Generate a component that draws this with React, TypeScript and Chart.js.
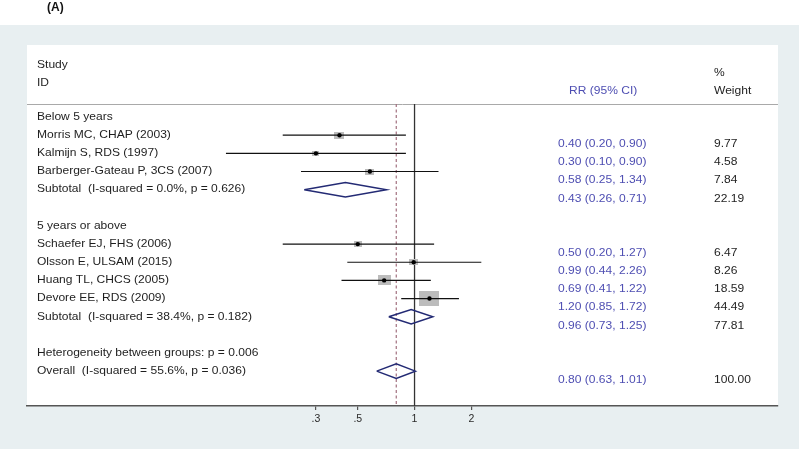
import React, { useEffect, useRef } from "react";
import { Chart, registerables } from "chart.js";

Chart.register(...registerables);

// ---------------- data ----------------
const studyLabels = [
  "Morris MC, CHAP (2003)",
  "Kalmijn S, RDS (1997)",
  "Barberger-Gateau P, 3CS (2007)",
  "Schaefer EJ, FHS (2006)",
  "Olsson E, ULSAM (2015)",
  "Huang TL, CHCS (2005)",
  "Devore EE, RDS (2009)",
];
const studyRows = [1, 2, 3, 7, 8, 9, 10];
const studyRR = [0.4, 0.3, 0.58, 0.5, 0.99, 0.69, 1.2];
const studyLo = [0.2, 0.1, 0.25, 0.2, 0.44, 0.41, 0.85];
const studyHi = [0.9, 0.9, 1.34, 1.27, 2.26, 1.22, 1.72];
const studyWeight = [9.77, 4.58, 7.84, 6.47, 8.26, 18.59, 44.49];

const pooledLabels = [
  "Subtotal  (I-squared = 0.0%, p = 0.626)",
  "Subtotal  (I-squared = 38.4%, p = 0.182)",
  "Overall  (I-squared = 55.6%, p = 0.036)",
];
const pooledRows = [4, 11, 14];
const pooledRR = [0.43, 0.96, 0.8];
const pooledLo = [0.26, 0.73, 0.63];
const pooledHi = [0.71, 1.25, 1.01];
const pooledWeight = [22.19, 77.81, 100.0];

const headingLabels = ["Below 5 years", "5 years or above", "Heterogeneity between groups: p = 0.006"];
const headingRows = [0, 6, 13];

const tickValues = [0.3, 0.5, 1, 2];
const tickLabels = [".3", ".5", "1", "2"];

const panelTitle = "(A)";
const colStudy = ["Study", "ID"];
const colRR = "RR (95% CI)";
const colWeight = ["%", "Weight"];

const nullValue = 1;

// ---------------- layout / style ----------------
const W = 799;
const H = 449;
const BG = "#e8eff1";
const FONT = "'Liberation Sans', Arial, Helvetica, sans-serif";
const TEXT_SX = 1.17;
const ROW_MIN = -3.97;
const ROW_MAX = 15.92;
const HEADER_ROW = -0.72;
const VALUE_SHIFT = 0.5;
const DIAMOND_H = 0.4;

const fmt = (v: number) => v.toFixed(2);

export default function App() {
  const ref = useRef<HTMLCanvasElement>(null);

  useEffect(() => {
    const canvas = ref.current;
    if (!canvas) return;

    const makeBox = (w: number) => {
      const side = 3.05 * Math.sqrt(w);
      const c = document.createElement("canvas");
      c.width = Math.max(2, Math.round(side));
      c.height = Math.max(2, Math.round(side / 1.38));
      const g = c.getContext("2d")!;
      g.fillStyle = "#bcbcbc";
      g.fillRect(0, 0, c.width, c.height);
      return c;
    };
    const boxes = studyWeight.map(makeBox);

    const drawText = (ctx: CanvasRenderingContext2D, s: string, x: number, y: number) => {
      ctx.save();
      ctx.translate(x, y);
      ctx.scale(TEXT_SX, 1);
      ctx.fillText(s, 0, 0);
      ctx.restore();
    };

    const bgPlugin = {
      id: "forestBg",
      beforeDraw(chart: any) {
        const { ctx, chartArea: a } = chart;
        const ys = chart.scales.y;
        ctx.save();
        ctx.fillStyle = "#ffffff";
        ctx.fillRect(0, 0, W, H);
        ctx.fillStyle = BG;
        ctx.fillRect(0, 25, W, H - 25);
        ctx.fillStyle = "#ffffff";
        ctx.fillRect(a.left, a.top, a.right - a.left, a.bottom - a.top);
        const hy = Math.round(ys.getPixelForValue(HEADER_ROW)) + 0.5;
        ctx.strokeStyle = "#a9a9a9";
        ctx.lineWidth = 1;
        ctx.beginPath();
        ctx.moveTo(a.left, hy);
        ctx.lineTo(a.right, hy);
        ctx.stroke();
        ctx.restore();
      },
      afterDraw(chart: any) {
        const { ctx } = chart;
        const ys = chart.scales.y;
        const py = (r: number) => ys.getPixelForValue(r);
        ctx.save();
        ctx.textBaseline = "middle";
        ctx.textAlign = "left";

        ctx.fillStyle = "#111";
        ctx.font = `bold 12px ${FONT}`;
        ctx.fillText(panelTitle, 47, 8);

        ctx.font = `10.3px ${FONT}`;
        ctx.fillStyle = "#1e1e1e";
        drawText(ctx, colStudy[0], 37, py(-2.87));
        drawText(ctx, colStudy[1], 37, py(-1.88));
        drawText(ctx, colWeight[0], 714, py(-2.44));
        drawText(ctx, colWeight[1], 714, py(-1.45));
        ctx.fillStyle = "#4e4eb2";
        drawText(ctx, colRR, 569, py(-1.4));

        ctx.fillStyle = "#1e1e1e";
        headingLabels.forEach((s, i) => drawText(ctx, s, 37, py(headingRows[i])));
        studyLabels.forEach((s, i) => drawText(ctx, s, 37, py(studyRows[i])));
        pooledLabels.forEach((s, i) => drawText(ctx, s, 37, py(pooledRows[i])));

        ctx.fillStyle = "#4e4eb2";
        studyRR.forEach((v, i) =>
          drawText(ctx, `${fmt(v)} (${fmt(studyLo[i])}, ${fmt(studyHi[i])})`, 558, py(studyRows[i] + VALUE_SHIFT))
        );
        pooledRR.forEach((v, i) =>
          drawText(ctx, `${fmt(v)} (${fmt(pooledLo[i])}, ${fmt(pooledHi[i])})`, 558, py(pooledRows[i] + VALUE_SHIFT))
        );
        ctx.fillStyle = "#1e1e1e";
        studyWeight.forEach((v, i) => drawText(ctx, fmt(v), 714, py(studyRows[i] + VALUE_SHIFT)));
        pooledWeight.forEach((v, i) => drawText(ctx, fmt(v), 714, py(pooledRows[i] + VALUE_SHIFT)));
        ctx.restore();
      },
    };

    const datasets: any[] = [];
    // point estimate dots (top)
    datasets.push({
      data: studyRR.map((v, i) => ({ x: v, y: studyRows[i] })),
      pointRadius: 2.2,
      pointBackgroundColor: "#000",
      pointBorderWidth: 0,
      showLine: false,
    });
    // confidence intervals
    studyRR.forEach((_, i) => {
      datasets.push({
        data: [
          { x: studyLo[i], y: studyRows[i] },
          { x: studyHi[i], y: studyRows[i] },
        ],
        showLine: true,
        borderColor: "#111",
        borderWidth: 1.2,
        pointRadius: 0,
      });
    });
    // weight boxes
    datasets.push({
      data: studyRR.map((v, i) => ({ x: v, y: studyRows[i] })),
      pointStyle: boxes,
      pointRadius: 5,
      showLine: false,
    });
    // pooled diamonds
    pooledRR.forEach((v, i) => {
      const r = pooledRows[i];
      datasets.push({
        data: [
          { x: pooledLo[i], y: r },
          { x: v, y: r - DIAMOND_H },
          { x: pooledHi[i], y: r },
          { x: v, y: r + DIAMOND_H },
          { x: pooledLo[i], y: r },
        ],
        showLine: true,
        borderColor: "#232a74",
        borderWidth: 1.5,
        pointRadius: 0,
        fill: false,
      });
    });
    // overall estimate dashed line
    datasets.push({
      data: [
        { x: pooledRR[2], y: HEADER_ROW },
        { x: pooledRR[2], y: ROW_MAX },
      ],
      showLine: true,
      borderColor: "#a2707f",
      borderWidth: 1.2,
      borderDash: [3, 2.5],
      pointRadius: 0,
    });
    // null line
    datasets.push({
      data: [
        { x: nullValue, y: HEADER_ROW },
        { x: nullValue, y: ROW_MAX },
      ],
      showLine: true,
      borderColor: "#333",
      borderWidth: 1.3,
      pointRadius: 0,
    });

    const chart = new Chart(canvas, {
      type: "scatter",
      data: { datasets },
      plugins: [bgPlugin],
      options: {
        responsive: false,
        animation: false,
        devicePixelRatio: 1,
        layout: { padding: { left: 27, right: 21, top: 45, bottom: 0 } },
        plugins: { legend: { display: false }, tooltip: { enabled: false } },
        scales: {
          x: {
            type: "logarithmic",
            min: 0.00881,
            max: 84.6,
            afterBuildTicks: (scale: any) => {
              scale.ticks = tickValues.map((v) => ({ value: v }));
            },
            afterFit: (scale: any) => {
              scale.height = H - 406;
            },
            ticks: {
              autoSkip: false,
              maxRotation: 0,
              padding: 3,
              color: "#2a2a2a",
              font: { family: FONT, size: 10.5 },
              callback: (_v: any, i: number) => tickLabels[i],
            },
            grid: {
              drawOnChartArea: false,
              drawTicks: true,
              tickLength: 4,
              color: "#555",
              lineWidth: 1.2,
            },
            border: { display: true, color: "#555", width: 1.5 },
          },
          y: {
            type: "linear",
            display: false,
            reverse: true,
            min: ROW_MIN,
            max: ROW_MAX,
          },
        },
      } as any,
    });

    return () => chart.destroy();
  }, []);

  return (
    <div style={{ position: "fixed", left: 0, top: 0, width: W, height: H }}>
      <canvas ref={ref} width={W} height={H} style={{ display: "block", width: W, height: H }} />
    </div>
  );
}
